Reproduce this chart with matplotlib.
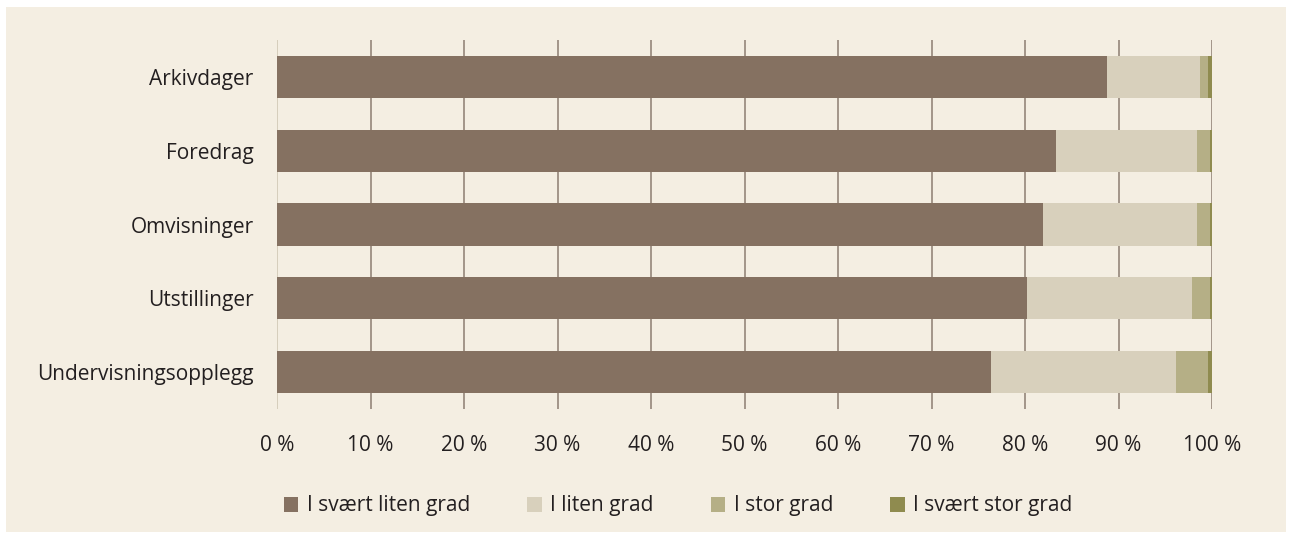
import matplotlib.pyplot as plt
from matplotlib.patches import Rectangle
import numpy as np

plt.rcParams['font.family'] = ['Open Sans', 'DejaVu Sans']

categories = ["Arkivdager", "Foredrag", "Omvisninger", "Utstillinger", "Undervisningsopplegg"]
series_names = ["I svært liten grad", "I liten grad", "I stor grad", "I svært stor grad"]
svaert_liten = [88.8, 83.3, 81.9, 80.2, 76.4]
liten = [9.9, 15.1, 16.5, 17.7, 19.7]
stor = [0.9, 1.4, 1.4, 1.9, 3.5]
svaert_stor = [0.4, 0.2, 0.2, 0.2, 0.4]
xticks = list(range(0, 101, 10))

colors = ["#857161", "#d8d0bc", "#b5af86", "#8f8b4f"]
bg = "#f4eee2"
txt = "#231f20"

fig = plt.figure(figsize=(12.92, 5.39), dpi=100)
fig.patch.set_facecolor("white")
fig.patches.append(Rectangle((6 / 1292, 7 / 539), 1280 / 1292, 525 / 539,
                             transform=fig.transFigure, facecolor=bg,
                             edgecolor="none", zorder=-10))

ax = fig.add_axes([277 / 1292, 1 - 409 / 539, 935 / 1292, 369 / 539])
ax.patch.set_alpha(0)

y = np.arange(len(categories))
left = np.zeros(len(categories))
for name, vals, c in zip(series_names, [svaert_liten, liten, stor, svaert_stor], colors):
    ax.barh(y, vals, left=left, height=0.57, color=c, label=name, zorder=3)
    left += np.array(vals)

ax.set_xlim(0, 100)
ax.set_ylim(len(categories) - 0.5, -0.5)
ax.set_yticks(y)
ax.set_yticklabels(categories, fontsize=15, color=txt)
ax.set_xticks(xticks)
ax.set_xticklabels([f"{t} %" for t in xticks], fontsize=15, color=txt)
ax.tick_params(length=0)
ax.tick_params(axis="x", pad=19)
ax.tick_params(axis="y", pad=17)
for s in ax.spines.values():
    s.set_visible(False)
for t in xticks:
    col = "#d3cbb9" if t == 0 else "#9c8e82"
    ax.axvline(t, color=col, lw=1.3, zorder=1)

fig.legend(loc="center", bbox_to_anchor=(678 / 1292, 1 - 506 / 539), ncol=4,
           frameon=False, fontsize=15, handlelength=0.7, handleheight=0.7,
           handletextpad=0.4, columnspacing=2.75, labelcolor=txt)

fig.savefig("out.png", dpi=100, facecolor="white")
